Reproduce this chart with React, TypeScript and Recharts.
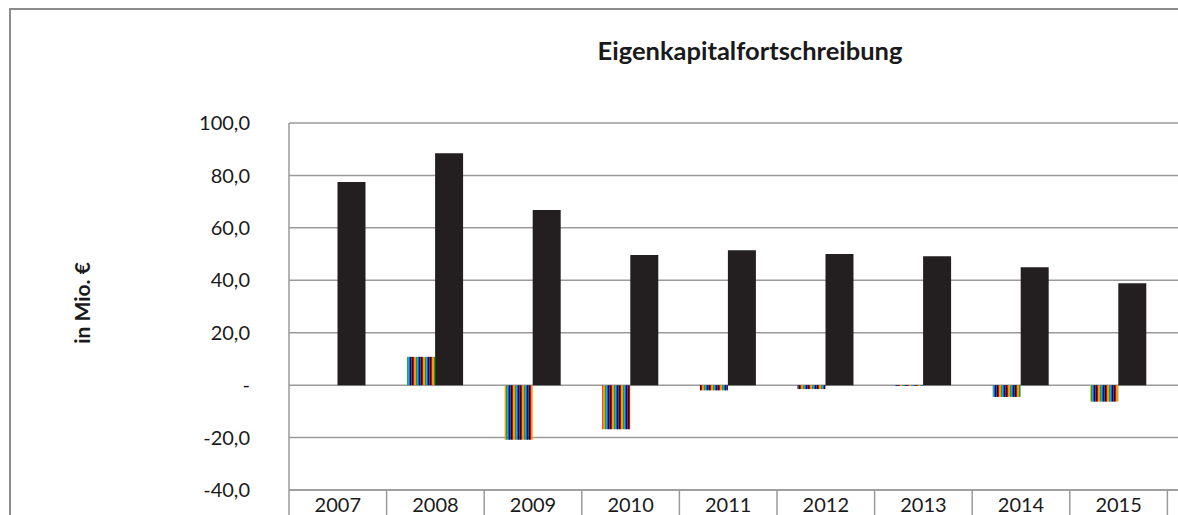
import React from 'react';
import { BarChart, Bar, XAxis, YAxis, CartesianGrid } from 'recharts';

const years = ['2007', '2008', '2009', '2010', '2011', '2012', '2013', '2014', '2015'];
const veraenderung = [0, 10.8, -20.8, -16.8, -2.0, -1.5, -0.3, -4.5, -6.3];
const eigenkapital = [77.5, 88.5, 66.8, 49.6, 51.5, 50.0, 49.2, 45.0, 38.9];
const yTicks = [-40, -20, 0, 20, 40, 60, 80, 100];

const data = years.map((year, i) => ({
  year,
  veraenderung: veraenderung[i],
  eigenkapital: eigenkapital[i],
}));

const STRIPES = ['#e00000', '#ff9a00', '#00b400', '#0064ff', '#00008c', '#141414'];
const GRID = '#9a9a9a';
const FONT = 'Lato, "Open Sans", sans-serif';

const CHART_W = 1170;
const CHART_H = 520;
const PLOT_LEFT = 281;
const BAND = 97.6;
// plot keeps running past the last year, like the cut-off original
const PAD_RIGHT = CHART_W - PLOT_LEFT - BAND * years.length;

const formatTick = (v: number) => (v === 0 ? '-' : v.toFixed(1).replace('.', ','));

function YearTick(props: any) {
  const { x, y, payload, index } = props;
  return (
    <g>
      {index === 0 && (
        <line x1={x - BAND / 2} y1={y} x2={x - BAND / 2} y2={y + 40} stroke={GRID} strokeWidth={1.5} />
      )}
      <line x1={x + BAND / 2} y1={y} x2={x + BAND / 2} y2={y + 40} stroke={GRID} strokeWidth={1.5} />
      <text x={x} y={y + 22} textAnchor="middle" fontSize={20} fontFamily={FONT} fill="#1a1a1a">
        {payload.value}
      </text>
    </g>
  );
}

export default function App() {
  return (
    <div
      style={{
        position: 'fixed',
        left: 0,
        top: 0,
        width: 1178,
        height: 515,
        overflow: 'hidden',
        background: '#fff',
      }}
    >
      <style>{'html,body{overflow:hidden}'}</style>
      <div
        style={{
          position: 'absolute',
          left: 9,
          top: 8,
          width: 1169,
          height: 507,
          borderTop: '2px solid #8c8c8c',
          borderLeft: '2px solid #8c8c8c',
          boxSizing: 'border-box',
        }}
      />
      <div
        style={{
          position: 'absolute',
          left: 450,
          width: 600,
          top: 37,
          lineHeight: '26px',
          textAlign: 'center',
          fontFamily: FONT,
          fontWeight: 700,
          fontSize: 25.5,
          color: '#1a1a1a',
        }}
      >
        Eigenkapitalfortschreibung
      </div>
      <div
        style={{
          position: 'absolute',
          left: 82 - 70,
          top: 303 - 12,
          width: 140,
          height: 24,
          lineHeight: '24px',
          textAlign: 'center',
          transform: 'rotate(-90deg)',
          fontFamily: FONT,
          fontWeight: 700,
          fontSize: 21,
          color: '#1a1a1a',
        }}
      >
        in Mio. €
      </div>
      <div style={{ position: 'absolute', left: 8, top: 8 }}>
        <BarChart
          width={CHART_W}
          height={CHART_H}
          data={data}
          margin={{ top: 115, right: 0, left: 0, bottom: 0 }}
          barCategoryGap="21%"
          barGap={0}
        >
          <defs>
            <pattern id="stripes" patternUnits="userSpaceOnUse" width={9} height={4}>
              {STRIPES.map((c, i) => (
                <rect key={c} x={i * 1.5} y={0} width={1.5} height={4} fill={c} />
              ))}
            </pattern>
          </defs>
          <CartesianGrid vertical={false} stroke={GRID} strokeWidth={1.5} />
          <XAxis
            dataKey="year"
            height={38}
            padding={{ left: 0, right: PAD_RIGHT }}
            axisLine={{ stroke: GRID, strokeWidth: 1.5 }}
            tickLine={false}
            tickSize={0}
            tickMargin={0}
            interval={0}
            tick={<YearTick />}
          />
          <YAxis
            width={PLOT_LEFT}
            domain={[-40, 100]}
            ticks={yTicks}
            interval={0}
            tickFormatter={formatTick}
            axisLine={{ stroke: GRID, strokeWidth: 1.5 }}
            tickLine={false}
            tickSize={0}
            tickMargin={39}
            tick={{ fontSize: 20, fontFamily: FONT, fill: '#1a1a1a' }}
          />
          <Bar dataKey="veraenderung" fill="url(#stripes)" isAnimationActive={false} />
          <Bar dataKey="eigenkapital" fill="#231f20" isAnimationActive={false} />
        </BarChart>
      </div>
    </div>
  );
}
